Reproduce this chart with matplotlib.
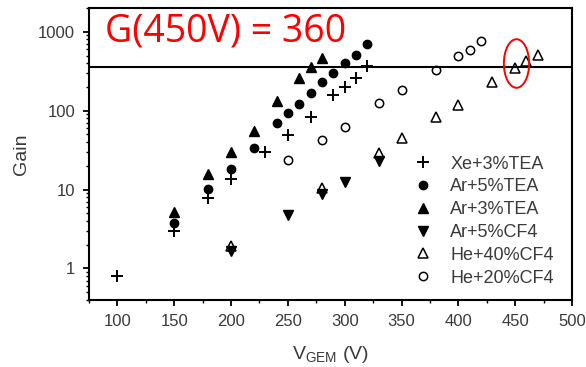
import matplotlib
matplotlib.use("Agg")
import matplotlib.pyplot as plt
import numpy as np
from matplotlib.path import Path
from matplotlib.transforms import Affine2D
from matplotlib.ticker import MultipleLocator, LogLocator, NullFormatter, FixedLocator

plt.rcParams['font.family'] = ['Liberation Sans', 'DejaVu Sans']

# data
xe3tea_v = [100, 150, 180, 200, 230, 250, 270, 290, 300, 310, 320]
xe3tea_g = [0.81, 3.0, 7.9, 13.8, 30, 49, 82, 156, 197, 256, 364]

ar5tea_v = [150, 180, 200, 220, 240, 250, 260, 270, 280, 290, 300, 310, 320]
ar5tea_g = [3.75, 10.1, 18, 34, 69, 94, 122, 170, 228, 300, 397, 507, 700]

ar3tea_v = [150, 180, 200, 220, 240, 260, 270, 280]
ar3tea_g = [5.2, 15.8, 29.7, 56, 134, 256, 353, 459]

ar5cf4_v = [200, 250, 280, 300, 330]
ar5cf4_g = [1.66, 4.8, 8.8, 12.4, 23.3]

he40cf4_v = [200, 280, 330, 350, 380, 400, 430, 450, 460, 470]
he40cf4_g = [1.9, 10.4, 29, 45, 82, 119, 233, 347, 430, 511]

he20cf4_v = [250, 280, 300, 330, 350, 380, 400, 410, 420]
he20cf4_g = [23.5, 42.6, 63, 124, 183, 327, 497, 586, 754]

g_450 = 360
circle_v, circle_g = 451, 400

fig = plt.figure(figsize=(5.86, 3.67), dpi=100)
ax = fig.add_axes([0.152, 0.183, 0.824, 0.795])

txt_col = '#3a3a3a'
ax.plot(xe3tea_v, xe3tea_g, ls='none', marker='+', ms=9, mew=1.4, color='black', label='Xe+3%TEA')
ax.plot(ar5tea_v, ar5tea_g, ls='none', marker='o', ms=6, color='black', label='Ar+5%TEA')
ax.plot(ar3tea_v, ar3tea_g, ls='none', marker='^', ms=7, color='black', label='Ar+3%TEA')
ax.plot(ar5cf4_v, ar5cf4_g, ls='none', marker='v', ms=7, color='black', label='Ar+5%CF4')
ax.plot(he40cf4_v, he40cf4_g, ls='none', marker='^', ms=7, mfc='none', mec='black', mew=1.1, label='He+40%CF4')
ax.plot(he20cf4_v, he20cf4_g, ls='none', marker='o', ms=6, mfc='none', mec='black', mew=1.1, label='He+20%CF4')

ax.axhline(g_450, color='black', lw=1.5)

# red ellipse around the 450 V point
ell = Path.unit_circle().transformed(Affine2D().scale(0.52, 1.0))
ax.plot(circle_v, circle_g, ls='none', marker=ell, ms=35, mfc='none', mec='red', mew=1.4)

ax.text(0.033, 0.887, 'G(450V) = 360', transform=ax.transAxes, color='red',
        fontsize=27, family=['Open Sans', 'DejaVu Sans'], va='baseline')

ax.set_xlim(75, 500)
ax.set_yscale('log')
ax.set_ylim(0.4, 2000)

ax.xaxis.set_major_locator(FixedLocator([100, 150, 200, 250, 300, 350, 400, 450, 500]))
ax.xaxis.set_minor_locator(MultipleLocator(25))
ax.yaxis.set_major_locator(FixedLocator([1, 10, 100, 1000]))
ax.yaxis.set_minor_locator(LogLocator(base=10, subs=np.arange(2, 10)))
ax.yaxis.set_minor_formatter(NullFormatter())
ax.set_yticklabels(['1', '10', '100', '1000'])

ax.tick_params(which='major', direction='out', length=4, width=1.3, labelsize=12,
               labelcolor=txt_col, pad=6)
ax.tick_params(which='minor', direction='out', length=2.5, width=1.0)
for s in ax.spines.values():
    s.set_linewidth(1.5)

ax.set_ylabel('Gain', fontsize=14, color=txt_col, labelpad=6)
ax.set_xlabel(r'V$_{\mathregular{GEM}}$ (V)', fontsize=14, color=txt_col, labelpad=11)

ax.legend(loc='upper left', bbox_to_anchor=(0.64, 0.55), frameon=False, fontsize=13,
          handlelength=1.0, handletextpad=1.0, labelspacing=0.32, labelcolor=txt_col)

fig.savefig('out.png', dpi=100)
